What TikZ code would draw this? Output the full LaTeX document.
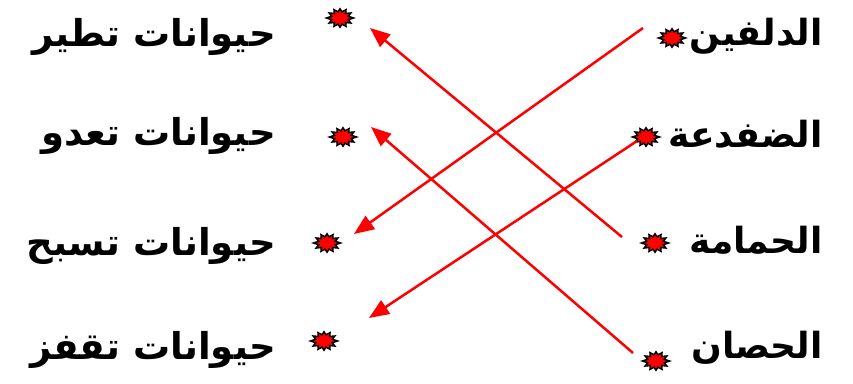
\documentclass[tikz,border=0pt]{standalone}
\usepackage{fontspec}
\TeXXeTstate=1
\newfontfamily\arabicfont[Script=Arabic]{DejaVu Sans}
\usetikzlibrary{arrows.meta}
\begin{document}
\begin{tikzpicture}[x=1pt,y=-1pt,
  lbl/.style={font=\arabicfont\bfseries\fontsize{37}{44}\selectfont,inner sep=0pt},
  rlbl/.style={font=\arabicfont\bfseries\fontsize{36}{44}\selectfont,inner sep=0pt},
  marker/.style={inner sep=0pt,minimum width=26pt,minimum height=21pt},
  link/.style={red,line width=2.5pt,-{Triangle[length=20pt,width=16pt]}},
  spark/.pic={\draw[fill=red,draw=black,line width=1.5pt,line join=miter]
    (0:13.5) -- (15:8.5) -- (30:12.5) -- (45:8) -- (60:12) -- (75:8) -- (90:11.5)
    -- (105:8) -- (120:12) -- (135:8) -- (150:12.5) -- (165:8.5) -- (180:13.5)
    -- (195:8.5) -- (210:12.5) -- (225:8) -- (240:12) -- (255:8) -- (270:11.5)
    -- (285:8) -- (300:12) -- (315:8) -- (330:12.5) -- (345:8.5) -- cycle;}]
\useasboundingbox[fill=white] (0,0) rectangle (853,383);
% left column
\node[lbl,anchor=east] (t1) at (276,37) {\beginR حيوانات تطير\endR};
\node[lbl,anchor=east] (t2) at (276,136) {\beginR حيوانات تعدو\endR};
\node[lbl,anchor=east] (t3) at (276,246) {\beginR حيوانات تسبح\endR};
\node[lbl,anchor=east] (t4) at (276,350) {\beginR حيوانات تقفز\endR};
\node[marker] (m1) at (340,18) {};
\node[marker] (m2) at (343,137) {};
\node[marker] (m3) at (327,243) {};
\node[marker] (m4) at (324,341) {};
% right column
\node[rlbl,anchor=east] (r1) at (823,36) {\beginR الدلفين\endR};
\node[rlbl,anchor=east] (r2) at (823,134) {\beginR الضفدعة\endR};
\node[rlbl,anchor=east] (r3) at (823,240) {\beginR الحمامة\endR};
\node[rlbl,anchor=east] (r4) at (823,348) {\beginR الحصان\endR};
\node[marker] (n1) at (672,38) {};
\node[marker] (n2) at (646,137) {};
\node[marker] (n3) at (655,243) {};
\node[marker] (n4) at (656,361) {};
\foreach \m in {m1,m2,m3,m4,n1,n2,n3,n4} \pic[yscale=0.8] at (\m) {spark};
% arrow ends
\coordinate (s1) at (643,28);
\coordinate (s2) at (637,141);
\coordinate (s3) at (622,237);
\coordinate (s4) at (633,353);
\coordinate (e1) at (370,28);
\coordinate (e2) at (371,127);
\coordinate (e3) at (354,234);
\coordinate (e4) at (369,318);
\draw[link] (s1) -- (e3);
\draw[link] (s2) -- (e4);
\draw[link] (s3) -- (e1);
\draw[link] (s4) -- (e2);
\end{tikzpicture}
\end{document}
